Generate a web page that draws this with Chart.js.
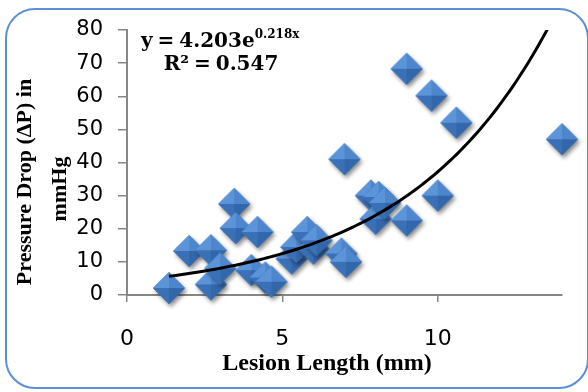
<!DOCTYPE html>
<html>
<head>
<meta charset="utf-8">
<script src="https://cdn.jsdelivr.net/npm/chart.js@4.4.1/dist/chart.umd.min.js"></script>
<style>
  html, body { margin: 0; padding: 0; background: #fff; }
  #wrap { position: relative; width: 588px; height: 392px; overflow: hidden; }
  #frame { position: absolute; left: 5px; top: 8px; width: 584px; height: 381px; box-sizing: border-box;
           border: 2.5px solid #5b8fd6; border-radius: 30px; }
  #chart { position: absolute; left: 0; top: 0; }
  .lbl { position: absolute; font-family: "Liberation Serif", serif; font-weight: bold; color: #000;
         white-space: nowrap; line-height: 1; }
  .eq { font-family: "DejaVu Serif", serif; font-size: 20px; word-spacing: -2px; }
  .eq sup { font-size: 12px; position: relative; top: -9px; vertical-align: baseline; }
</style>
</head>
<body>
<div id="wrap">
  <div id="frame"></div>
  <canvas id="chart" width="588" height="392"></canvas>
  <div class="lbl" id="xTitle" style="font-size:24px; left:327px; top:350px; transform:translateX(-50%);">Lesion Length (mm)</div>
  <div class="lbl" id="yTitle1" style="font-size:22px; left:24px; top:182px; transform:translate(-50%,-50%) rotate(-90deg);">Pressure Drop (ΔP) in</div>
  <div class="lbl" id="yTitle2" style="font-size:22px; left:59px; top:189px; transform:translate(-50%,-50%) rotate(-90deg);">mmHg</div>
  <div class="lbl eq" style="left:141px; top:30px;">y = 4.203e<sup>0.218x</sup></div>
  <div class="lbl eq" style="left:221px; top:53px; transform:translateX(-50%);">R² = 0.547</div>
</div>
<script>
// lesion length (mm) and pressure drop (mmHg)
const lesionLength = [1.35, 2.0, 2.7, 2.7, 3.0, 3.45, 3.5, 4.0, 4.2, 4.45, 4.65,
                      5.3, 5.45, 5.8, 6.0, 6.1, 6.9, 7.05, 7.0, 7.85, 8.1, 8.0,
                      8.3, 9.0, 10.0, 9.0, 9.8, 10.6, 14.0];
const pressureDrop = [2.1, 13.3, 13.5, 3.2, 8.0, 27.5, 20.2, 7.5, 19.0, 5.3, 4.0,
                      11.0, 14.5, 19.0, 14.0, 16.5, 12.5, 10.0, 41.0, 30.0, 29.6, 23.0,
                      27.8, 22.5, 30.0, 68.3, 60.2, 52.0, 47.0];
const xTicks = [0, 5, 10];
const yTicks = [0, 10, 20, 30, 40, 50, 60, 70, 80];

// exponential trendline shown on the chart: y = 4.203 e^(0.218x)
const fitA = 4.203;
const fitB = 0.218;

function trendPoints() {
  const lo = Math.min(...lesionLength);
  const hi = Math.max(...lesionLength);
  const pts = [];
  for (let x = lo; x <= hi + 1e-9; x += (hi - lo) / 120) {
    pts.push({ x: x, y: fitA * Math.exp(fitB * x) });
  }
  return pts;
}

function makeDiamond() {
  const c = document.createElement('canvas');
  c.width = 46; c.height = 46;
  const g = c.getContext('2d');
  const cx = 23, cy = 23, r = 16;
  g.save();
  g.shadowColor = 'rgba(0,0,0,0.45)';
  g.shadowBlur = 4; g.shadowOffsetX = 2; g.shadowOffsetY = 3;
  g.beginPath();
  g.moveTo(cx, cy - r); g.lineTo(cx + r, cy); g.lineTo(cx, cy + r); g.lineTo(cx - r, cy);
  g.closePath();
  g.fillStyle = '#3c72b8';
  g.fill();
  g.restore();
  const facet = (ax, ay, bx, by, col) => {
    g.beginPath(); g.moveTo(cx, cy); g.lineTo(ax, ay); g.lineTo(bx, by); g.closePath();
    g.fillStyle = col; g.fill();
  };
  facet(cx - r, cy, cx, cy - r, '#5b94d8');
  facet(cx, cy - r, cx + r, cy, '#4d86cc');
  facet(cx + r, cy, cx, cy + r, '#3367ab');
  facet(cx, cy + r, cx - r, cy, '#3a71b6');
  return c;
}

const axisGray = '#868686';

new Chart(document.getElementById('chart'), {
  data: {
    datasets: [
      {
        type: 'line',
        data: trendPoints(),
        borderColor: '#000',
        borderWidth: 3,
        pointRadius: 0,
        tension: 0,
        fill: false
      },
      {
        type: 'scatter',
        data: lesionLength.map((x, i) => ({ x: x, y: pressureDrop[i] })),
        pointStyle: makeDiamond(),
        clip: false
      }
    ]
  },
  options: {
    responsive: false,
    animation: false,
    layout: { padding: { left: 0, top: 30, right: 26, bottom: 0 } },
    plugins: { legend: { display: false }, tooltip: { enabled: false } },
    scales: {
      x: {
        type: 'linear',
        position: 'bottom',
        min: 0,
        max: 14,
        afterBuildTicks: s => { s.ticks = xTicks.map(v => ({ value: v })); },
        afterFit: s => { s.height = 97; },
        grid: { drawOnChartArea: false, tickLength: 7, color: axisGray, lineWidth: 1.5 },
        border: { color: axisGray, width: 2 },
        ticks: { font: { family: 'DejaVu Sans', size: 22 }, color: '#000', padding: 24, maxRotation: 0 }
      },
      y: {
        type: 'linear',
        min: 0,
        max: 80,
        afterBuildTicks: s => { s.ticks = yTicks.map(v => ({ value: v })); },
        afterFit: s => { s.width = 127; },
        grid: { drawOnChartArea: false, tickLength: 9, color: axisGray, lineWidth: 1.5 },
        border: { color: axisGray, width: 2 },
        ticks: { font: { family: 'DejaVu Sans', size: 21 }, color: '#000', padding: 15 }
      }
    }
  }
});
</script>
</body>
</html>
